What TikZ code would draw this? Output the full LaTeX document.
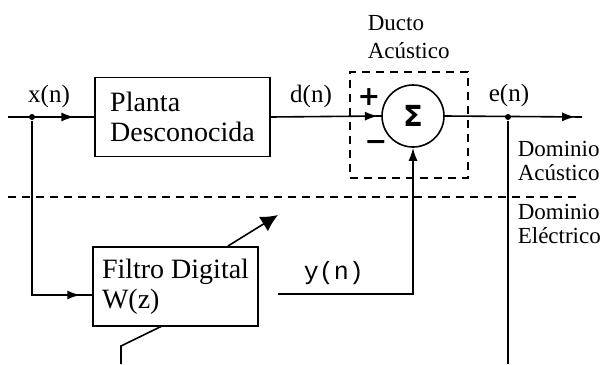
\documentclass[tikz,border=0pt]{standalone}
\usepackage{fontspec}
\setmainfont{Liberation Serif}
\newfontfamily\sigmafont{DejaVu Sans}
\newfontfamily\monofont{Liberation Mono}
\usetikzlibrary{arrows.meta,decorations.markings}
\begin{document}
\begin{tikzpicture}[x=1pt,y=-1pt,
  line width=1.6pt,
  blk/.style={draw, rectangle, inner sep=0pt, align=left, font=\fontsize{28}{30}\selectfont},
  lbl/.style={inner sep=0pt, font=\fontsize{25}{28}\selectfont},
  slbl/.style={inner sep=0pt, font=\fontsize{23}{26}\selectfont},
  midarr/.style={postaction={decorate}, decoration={markings, mark=at position #1 with {\arrow{Latex[length=13pt,width=9pt]}}}},
  jdot/.style={circle, fill, inner sep=0pt, minimum size=6pt},
  dsh/.style={dash pattern=on 8pt off 6pt},
  sgn/.style={inner sep=0pt, font=\sigmafont\bfseries\fontsize{27}{27}\selectfont}
]
\useasboundingbox (0,0) rectangle (607,364);
\fill[white] (0,0) rectangle (607,364);

% blocks
\node[blk, minimum width=175pt, minimum height=79pt] (planta) at (182.5,117) {Planta\\Desconocida};
\node[blk, minimum width=165pt, minimum height=79pt] (filtro) at (175.5,286.5) {Filtro Digital\\W(z)};
\node[draw, circle, minimum size=62pt, inner sep=0pt, font=\sigmafont\bfseries\fontsize{29}{29}\selectfont] (sum) at (413,116) {Σ};
\node[draw, dsh, minimum width=118pt, minimum height=106pt, inner sep=0pt] (ducto) at (409,125) {};

% coordinates
\coordinate (in) at (8,117);
\node[jdot] (jx) at (32,117) {};
\coordinate (fin) at (93,295);
\coordinate (out) at (582,117);
\node[jdot] (je) at (508,117) {};
\coordinate (ebot) at (508,364);
\coordinate (dl) at (8,197);
\coordinate (dr) at (577,197);
\coordinate (yo) at (278,294);
\coordinate (a1) at (228,246);
\coordinate (a2) at (278,215);
\coordinate (b1) at (162,326);
\coordinate (b2) at (121,346);
\coordinate (b3) at (121,364);

% connectors
\draw[midarr=0.77] (in) -- (planta.west);
\draw[midarr=0.946] (jx) |- (fin);
\draw[midarr=0.97] (planta.east) -- (sum.west);
\draw[midarr=0.95] (sum.east) -- (out);
\draw (je) -- (ebot);
\draw[dsh] (dl) -- (dr);
\draw[-{Latex[length=13pt,width=9pt]}] (yo) -| (sum.south);
\draw[-{Latex[length=17pt,width=17pt]}] (a1) -- (a2);
\draw (b1) -- (b2) -- (b3);

% labels
\node[lbl, anchor=base] (xl) at (49,102) {x(n)};
\node[lbl, anchor=base] (dnl) at (311,102) {d(n)};
\node[lbl, anchor=base] (enl) at (509,101) {e(n)};
\node[slbl, anchor=base west] (duc1) at (367,30) {Ducto};
\node[slbl, anchor=base west] (duc2) at (367,58) {Acústico};
\node[slbl, anchor=base west] (da1) at (517,156) {Dominio};
\node[slbl, anchor=base west] (da2) at (517,180) {Acústico};
\node[slbl, anchor=base west] (de1) at (517,219) {Dominio};
\node[slbl, anchor=base west] (de2) at (517,243) {Eléctrico};
\node[inner sep=0pt, anchor=base west, font=\monofont\fontsize{25}{25}\selectfont] (ynl) at (303,279) {y(n)};
\node[sgn] (plus) at (369,97) {+};
\node[sgn] (minus) at (376,145) {−};
\end{tikzpicture}
\end{document}
